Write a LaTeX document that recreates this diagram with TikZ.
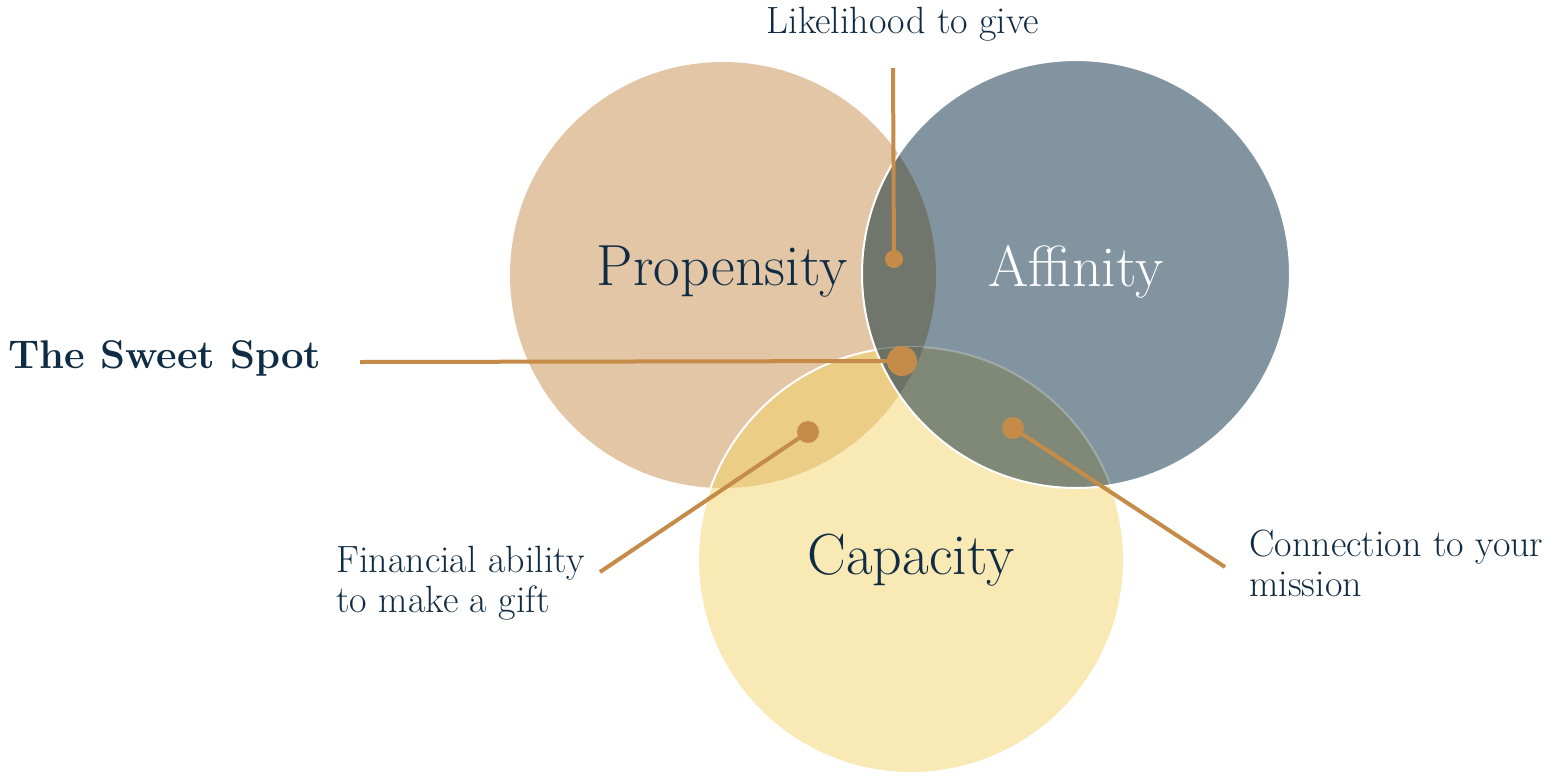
\documentclass[tikz,border=0pt]{standalone}
\usetikzlibrary{positioning}
\definecolor{donornavy}{RGB}{16,44,68}
\definecolor{donorlink}{RGB}{197,139,72}
\definecolor{donorprop}{RGB}{226,198,166}
\definecolor{donoraff}{RGB}{130,148,160}
\definecolor{donorcap}{RGB}{249,233,180}
\definecolor{donorpa}{RGB}{112,118,108}
\definecolor{donorpc}{RGB}{235,205,134}
\definecolor{donorac}{RGB}{128,136,119}
\definecolor{donorpac}{RGB}{108,114,101}
\tikzset{
  set label/.style={
    text=donornavy,
    font=\fontsize{29}{34}\selectfont,
  },
  note label/.style={
    text=donornavy,
    font=\fontsize{19}{20}\selectfont,
    align=left,
    inner sep=0pt,
  },
  link dot/.style={
    circle,
    fill=donorlink,
    inner sep=0pt,
  },
  link line/.style={
    draw=donorlink,
    line width=2pt,
  },
  rim/.style={
    draw=white,
    line width=1pt,
  },
}

\begin{document}
\begin{tikzpicture}[x=0.5pt,y=-0.5pt]
  \useasboundingbox (0,0) rectangle (1558,777);

  % the three sets
  \def\propcirc{(723,275) circle (213)}
  \def\affcirc{(1076,274) circle (214)}
  \def\capcirc{(911,560) circle (213)}

  \fill[donorprop] \propcirc;
  \fill[donorcap] \capcirc;
  \begin{scope}
    \clip \propcirc;
    \fill[donorpc] \capcirc;
  \end{scope}
  \draw[rim] \capcirc;

  \fill[donoraff] \affcirc;
  \begin{scope}
    \clip \affcirc;
    \fill[donorpa] \propcirc;
    \fill[donorac] \capcirc;
    \draw[rim, draw opacity=0.25] \capcirc;
    \clip \capcirc;
    \fill[donorpac] \propcirc;
  \end{scope}
  \draw[rim] \affcirc;

  % set names
  \node[set label] (prop) at (722,272) {Propensity};
  \node[set label, text=white] (aff) at (1076,272) {Affinity};
  \node[set label] (cap) at (911,560) {Capacity};

  % notes and their pointers
  \node[note label] (give) at (903,24) {Likelihood to give};
  \node[note label, anchor=west, font=\fontsize{20}{24}\selectfont\bfseries] (sweet) at (8,358) {The Sweet Spot};
  \node[note label, anchor=west] (money) at (336,583) {Financial ability\\to make a gift};
  \node[note label, anchor=west] (mission) at (1249,563) {Connection to your\\mission};

  \node[link dot, minimum size=9pt] (givedot) at (894,259) {};
  \node[link dot, minimum size=15pt] (sweetdot) at (902,361) {};
  \node[link dot, minimum size=11pt] (moneydot) at (808,432) {};
  \node[link dot, minimum size=11pt] (missiondot) at (1013,428) {};

  \coordinate (giveend) at (893,68);
  \coordinate (sweetend) at (360,362);
  \coordinate (moneyend) at (600,572);
  \coordinate (missionend) at (1225,567);

  \draw[link line] (giveend) -- (givedot.center);
  \draw[link line] (sweetend) -- (sweetdot.center);
  \draw[link line] (moneyend) -- (moneydot.center);
  \draw[link line] (missionend) -- (missiondot.center);
\end{tikzpicture}
\end{document}
